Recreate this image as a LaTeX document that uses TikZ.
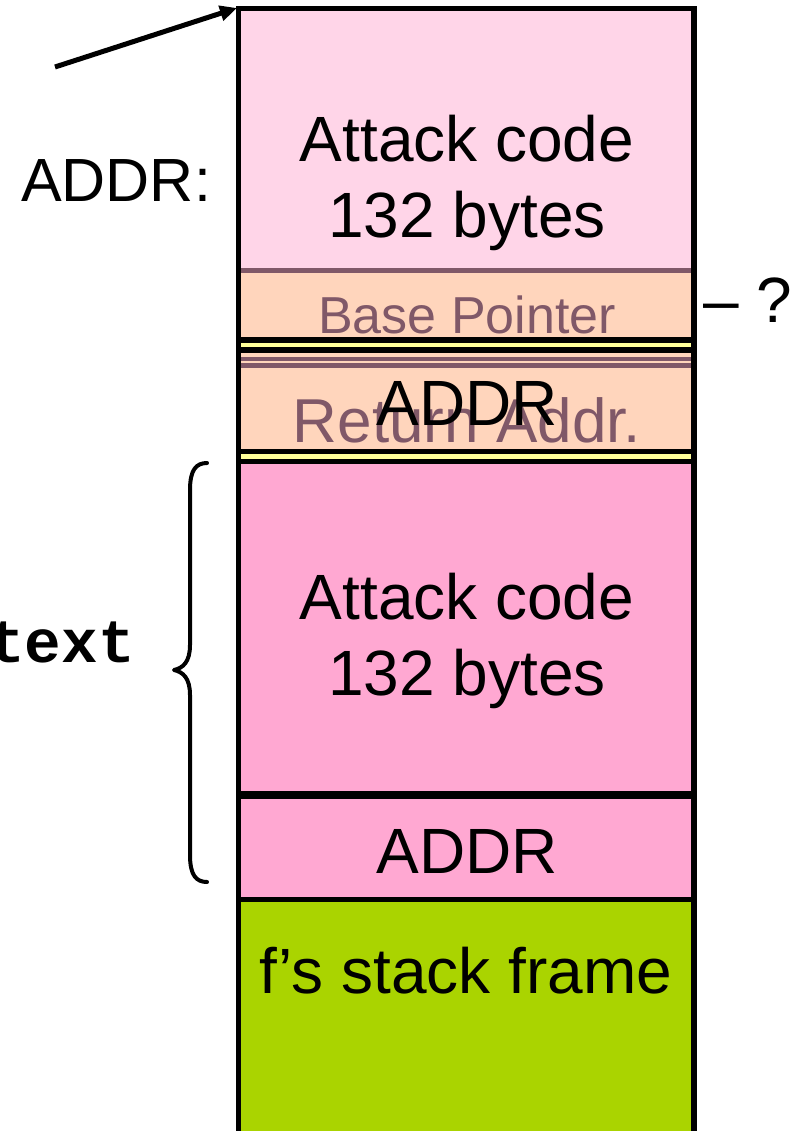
\documentclass[tikz,border=0pt]{standalone}
\usepackage{fontspec}
\setmainfont{Liberation Sans}
\newfontfamily\codefont{Liberation Mono}
\usetikzlibrary{arrows.meta}

\definecolor{softpink}{RGB}{255,213,232}
\definecolor{peach}{RGB}{255,213,188}
\definecolor{hotpink}{RGB}{255,168,210}
\definecolor{limegreen}{RGB}{170,212,0}
\definecolor{lemon}{RGB}{255,255,153}
\definecolor{mauve}{RGB}{128,88,104}

\tikzset{
  big/.style={font=\fontsize{64}{76}\selectfont, inner sep=0pt},
  side/.style={font=\fontsize{61}{72}\selectfont, inner sep=0pt},
  faded/.style={font=\fontsize{52}{60}\selectfont, inner sep=0pt, text=mauve},
  fadedbig/.style={font=\fontsize{62}{72}\selectfont, inner sep=0pt, text=mauve},
  codelabel/.style={font=\codefont\bfseries\fontsize{61}{70}\selectfont, inner sep=0pt},
  divider/.style={line width=#1},
  pointer/.style={line width=5pt, -{Triangle[length=17pt,width=15pt]}},
  bracket/.style={line width=4pt, line cap=round, line join=round},
}

\begin{document}
\begin{tikzpicture}[x=1pt,y=-1pt]
\useasboundingbox (0,0) rectangle (806,1131);
\clip (0,0) rectangle (806,1131);

% stack slots, top to bottom
\fill[softpink]  (238,8)   rectangle (694,270);
\fill[peach]     (238,270) rectangle (694,342);
\fill[lemon]     (238,342) rectangle (694,350);
\fill[peach]     (238,350) rectangle (694,454);
\fill[lemon]     (238,454) rectangle (694,462);
\fill[hotpink]   (238,462) rectangle (694,899);
\fill[limegreen] (238,899) rectangle (694,1131);

% slot contents
\node[big, anchor=base] (code1a) at (467,162) {Attack code};
\node[big, anchor=base] (code1b) at (467,238) {132 bytes};
\node[faded, anchor=base] (bp) at (467,333) {Base Pointer};
\node[fadedbig, anchor=base] (ret) at (467,442) {Return Addr.};
\node[big, anchor=base] (addr1) at (467,425) {ADDR};
\node[big, anchor=base] (code2a) at (467,619) {Attack code};
\node[big, anchor=base] (code2b) at (467,695) {132 bytes};
\node[big, anchor=base] (addr2) at (467,873) {ADDR};
\node[big, anchor=base] (frame) at (466,993) {f’s stack frame};

% separators between slots
\draw[mauve, divider=4.4pt] (240,270.5) -- (692,270.5);
\draw[divider=5.4pt] (240,340) -- (692,340);
\draw[divider=5.4pt] (240,350) -- (692,350);
\draw[mauve, divider=4pt] (240,358.7) -- (692,358.7);
\draw[mauve, divider=5pt] (240,365.8) -- (692,365.8);
\draw[divider=4.7pt] (240,451.7) -- (692,451.7);
\draw[divider=4.7pt] (240,461.7) -- (692,461.7);
\draw[divider=8pt] (240,795) -- (692,795);
\draw[divider=5pt] (240,899) -- (692,899);

% column outline
\coordinate (colBL) at (238.5,1140);
\coordinate (colTL) at (238.5,8.5);
\coordinate (colTR) at (694,8.5);
\coordinate (colBR) at (694,1140);
\draw[line width=5.5pt, line join=miter] (colBL) -- (colTL) -- (colTR) -- (colBR);

% labels outside the column
\node[side, anchor=base west] (addrlbl) at (21,202) {ADDR:};
\node[big, anchor=base west] (unknown) at (703,322) {– ?};
\node[codelabel, anchor=base west] (txt) at (-12,662) {text};

% pointer to the start of the buffer
\coordinate (tail) at (55,67);
\coordinate (bufstart) at (237,8);
\draw[pointer] (tail) -- (bufstart);

% brace spanning the overwritten region
\coordinate (braceTop) at (207,463);
\coordinate (braceTip) at (174,670);
\coordinate (braceBot) at (207,882);
\draw[bracket] (braceTop) .. controls (196,463) and (190,470) .. (190,490)
  -- (190,645) .. controls (190,662) and (183,668) .. (braceTip)
  .. controls (183,672) and (190,678) .. (190,695)
  -- (190,855) .. controls (190,875) and (196,882) .. (braceBot);
\end{tikzpicture}
\end{document}
